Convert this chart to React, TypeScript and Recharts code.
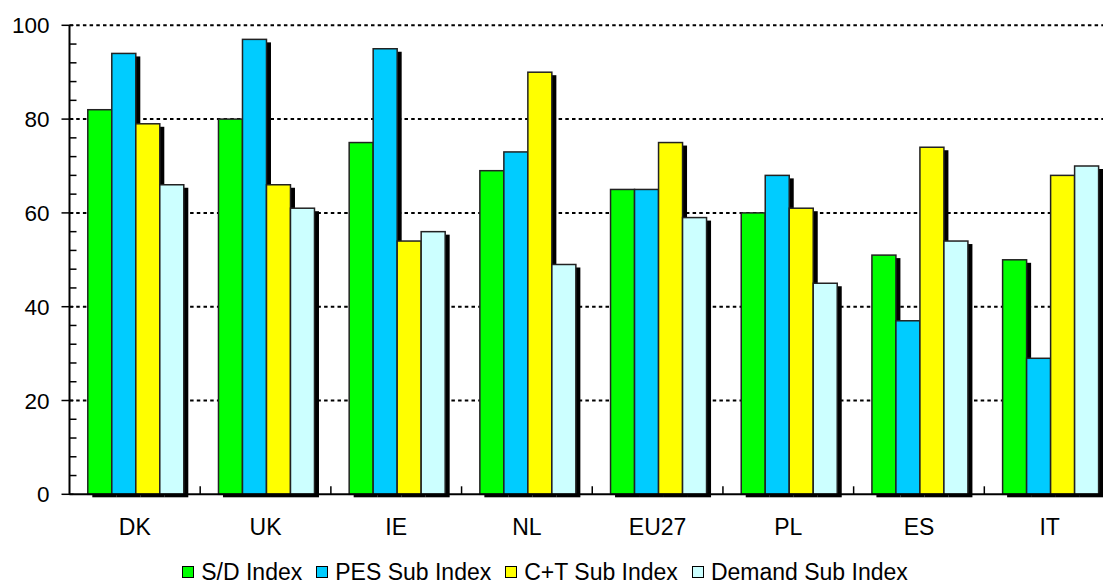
import { BarChart, Bar, XAxis, YAxis, CartesianGrid, Legend } from "recharts"

const categories = ["DK", "UK", "IE", "NL", "EU27", "PL", "ES", "IT"]
const sdIndex = [82, 80, 75, 69, 65, 60, 51, 50]
const pesSubIndex = [94, 97, 95, 73, 65, 68, 37, 29]
const ctSubIndex = [79, 66, 54, 90, 75, 61, 74, 68]
const demandSubIndex = [66, 61, 56, 49, 59, 45, 54, 70]

const seriesNames = ["S/D Index", "PES Sub Index", "C+T Sub Index", "Demand Sub Index"]
const seriesKeys = ["sd", "pes", "ct", "demand"]
const seriesColors = ["#00ff00", "#00ccff", "#ffff00", "#ccffff"]

const yTicks = [0, 4, 8, 12, 16, 20, 24, 28, 32, 36, 40, 44, 48, 52, 56, 60, 64, 68, 72, 76, 80, 84, 88, 92, 96, 100]
const gridValues = [20, 40, 60, 80, 100]
const yMax = 100

const chartData = categories.map((name, i) => ({
  name,
  sd: sdIndex[i],
  pes: pesSubIndex[i],
  ct: ctSubIndex[i],
  demand: demandSubIndex[i],
}))

const FONT = '"Liberation Sans", Arial, sans-serif'

// bar with a hard black drop shadow to the lower right
function ShadowBar(props: any) {
  const { x, y, width, height, fill } = props
  if (!height) return null
  return (
    <g>
      <rect x={x + 4.5} y={y + 3} width={width} height={height} fill="#000" />
      <rect x={x} y={y} width={width} height={height} fill={fill} stroke="#222" strokeWidth={1.5} />
    </g>
  )
}

function YTick(props: any) {
  const { x, y, payload } = props
  const v = payload.value
  if (v % 20 === 0) {
    return (
      <g>
        <line x1={x - 8} x2={x + 4} y1={y} y2={y} stroke="#000" strokeWidth={1.5} />
        <text x={x - 20} y={y} dy="0.36em" textAnchor="end" fontSize={22.5} fontFamily={FONT} fill="#000">
          {v}
        </text>
      </g>
    )
  }
  return <line x1={x} x2={x + 7} y1={y} y2={y} stroke="#000" strokeWidth={1.5} />
}

function XTick(props: any) {
  const { x, y, payload } = props
  const half = payload.offset || 65
  return (
    <g>
      <line x1={x + half} x2={x + half} y1={y} y2={y - 8} stroke="#000" strokeWidth={1.5} />
      <text x={x} y={y + 41} textAnchor="middle" fontSize={23} fontFamily={FONT} fill="#000">
        {payload.value}
      </text>
    </g>
  )
}

function LegendContent() {
  return (
    <div
      style={{
        display: "flex",
        justifyContent: "center",
        alignItems: "center",
        height: 30,
        fontFamily: FONT,
        fontSize: 23,
        lineHeight: "23px",
        color: "#000",
        whiteSpace: "nowrap",
      }}
    >
      {seriesNames.map((n, i) => (
        <span key={n} style={{ display: "inline-flex", alignItems: "center", marginRight: i < 3 ? 14 : 0 }}>
          <span
            style={{
              display: "inline-block",
              width: 10,
              height: 10,
              background: seriesColors[i],
              border: "1.5px solid #000",
              marginRight: 7,
            }}
          />
          {n}
        </span>
      ))}
    </div>
  )
}

// only the major values get a dotted grid line
function gridCoords({ yAxis, offset }: any) {
  if (yAxis && typeof yAxis.scale === "function") return gridValues.map((v) => yAxis.scale(v))
  return gridValues.map((v) => offset.top + offset.height * (1 - v / yMax))
}

export default function App() {
  return (
    <div
      style={{
        position: "absolute",
        left: 0,
        top: 0,
        width: 1103,
        height: 585,
        overflow: "hidden",
        background: "#fff",
      }}
    >
      <BarChart
        width={1120}
        height={585}
        data={chartData}
        margin={{ top: 25.3, right: 5, left: 0, bottom: 10.7 }}
        barCategoryGap="14%"
        barGap={0}
      >
        <CartesianGrid
          vertical={false}
          stroke="#000"
          strokeWidth={2}
          strokeDasharray="3.5 3.2"
          horizontalCoordinatesGenerator={gridCoords}
        />
        <XAxis
          dataKey="name"
          interval={0}
          height={50}
          tickSize={0}
          tickMargin={0}
          tickLine={false}
          axisLine={{ stroke: "#000", strokeWidth: 2 }}
          tick={<XTick />}
        />
        <YAxis
          width={69.5}
          domain={[0, yMax]}
          ticks={yTicks}
          interval={0}
          tickSize={0}
          tickMargin={0}
          tickLine={false}
          axisLine={{ stroke: "#000", strokeWidth: 2 }}
          tick={<YTick />}
        />
        <Legend
          verticalAlign="bottom"
          content={<LegendContent />}
          wrapperStyle={{ left: 0, width: 1090, top: 557, height: 30 }}
        />
        {seriesKeys.map((k, i) => (
          <Bar
            key={k}
            dataKey={k}
            name={seriesNames[i]}
            fill={seriesColors[i]}
            shape={<ShadowBar />}
            isAnimationActive={false}
          />
        ))}
      </BarChart>
    </div>
  )
}
